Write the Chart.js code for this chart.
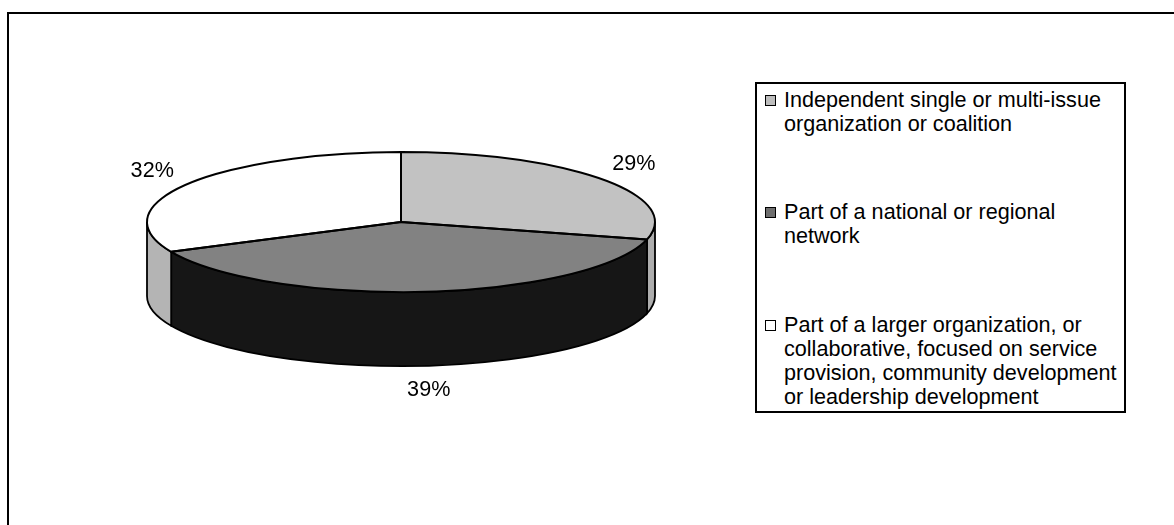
<!DOCTYPE html>
<html>
<head>
<meta charset="utf-8">
<script src="https://cdn.jsdelivr.net/npm/chart.js@4.4.1/dist/chart.umd.min.js"></script>
<style>
  html, body { margin: 0; padding: 0; background: #fff; overflow: hidden; }
  body { width: 1174px; height: 525px; position: relative; font-family: "Liberation Sans", Arial, sans-serif; }
  #frame { position: absolute; left: 7px; top: 12px; width: 1300px; height: 700px; border-left: 2px solid #000; border-top: 2px solid #000; }
  #chart { position: absolute; left: 0; top: 0; }
  #legend { position: absolute; left: 755px; top: 82px; width: 367px; height: 327px; border: 2px solid #000; background: #fff; }
  .item { position: absolute; left: 8px; font-size: 21.6px; line-height: 24px; color: #000; }
  .item .sw { position: absolute; left: 0; top: 7px; width: 9px; height: 9px; border: 1px solid #000; }
  .item .txt { margin-left: 19px; white-space: nowrap; }
</style>
</head>
<body>
<div id="frame"></div>
<canvas id="chart" width="1174" height="525"></canvas>
<div id="legend"></div>
<script>
// slices, clockwise from 12 o'clock
let categories = [
  'Independent single or multi-issue organization or coalition',
  'Part of a national or regional network',
  'Part of a larger organization, or collaborative, focused on service provision, community development or leadership development'
];
let legend_lines = [
  ['Independent single or multi-issue', 'organization or coalition'],
  ['Part of a national or regional', 'network'],
  ['Part of a larger organization, or', 'collaborative, focused on service', 'provision, community development', 'or leadership development']
];
let shares = [29, 39, 32];
let pct_labels = ['29%', '39%', '32%'];
let top_colors = ['#c2c2c2', '#828282', '#ffffff'];
let side_colors = ['#adadad', '#161616', '#b4b4b4'];
let swatch_colors = ['#bdbdbd', '#6e6e6e', '#ffffff'];

const TILT = 70 / 254;
const DEPTH = 74;

// legend
let legendBox = document.getElementById('legend');
let itemTops = [4, 116, 229];
for (let i = 0; i < legend_lines.length; i++) {
  let item = document.createElement('div');
  item.className = 'item';
  item.style.top = itemTops[i] + 'px';
  item.innerHTML = '<div class="sw" style="background:' + swatch_colors[i] + '"></div>' +
    '<div class="txt">' + legend_lines[i].join('<br>') + '</div>';
  legendBox.appendChild(item);
}

const pie3d = {
  id: 'pie3d',
  beforeDatasetsDraw(chart) {
    let ctx = chart.ctx;
    let arcs = chart.getDatasetMeta(0).data;
    let cx = arcs[0].x, cy = arcs[0].y;
    let rx = arcs[0].outerRadius, ry = rx * TILT;
    ctx.save();
    ctx.lineWidth = 1.8;
    ctx.strokeStyle = '#000';
    arcs.forEach((arc, i) => {
      for (let k = -1; k <= 1; k++) {
        let s = Math.max(arc.startAngle, 2 * Math.PI * k);
        let e = Math.min(arc.endAngle, Math.PI + 2 * Math.PI * k);
        if (e <= s) continue;
        ctx.beginPath();
        ctx.ellipse(cx, cy, rx, ry, 0, s, e);
        ctx.lineTo(cx + rx * Math.cos(e), cy + ry * Math.sin(e) + DEPTH);
        ctx.ellipse(cx, cy + DEPTH, rx, ry, 0, e, s, true);
        ctx.closePath();
        ctx.fillStyle = side_colors[i];
        ctx.fill();
        ctx.stroke();
      }
    });
    ctx.restore();
    // squash the flat pie into the top face
    ctx.save();
    ctx.translate(cx, cy);
    ctx.scale(1, TILT);
    ctx.translate(-cx, -cy);
  },
  afterDatasetsDraw(chart) {
    let ctx = chart.ctx;
    ctx.restore();
    let arcs = chart.getDatasetMeta(0).data;
    let cx = arcs[0].x, cy = arcs[0].y;
    let rx = arcs[0].outerRadius, ry = rx * TILT;
    ctx.save();
    ctx.lineWidth = 2;
    ctx.strokeStyle = '#000';
    ctx.lineJoin = 'round';
    arcs.forEach(arc => {
      ctx.beginPath();
      ctx.moveTo(cx, cy);
      ctx.lineTo(cx + rx * Math.cos(arc.startAngle), cy + ry * Math.sin(arc.startAngle));
      ctx.ellipse(cx, cy, rx, ry, 0, arc.startAngle, arc.endAngle);
      ctx.closePath();
      ctx.stroke();
    });
    // percentage labels outside the slices
    ctx.fillStyle = '#000';
    ctx.font = '21.6px "Liberation Sans", Arial, sans-serif';
    ctx.textAlign = 'center';
    ctx.textBaseline = 'middle';
    arcs.forEach((arc, i) => {
      let mid = (arc.startAngle + arc.endAngle) / 2;
      let lx = cx + rx * 1.16 * Math.cos(mid);
      let ly = cy + ry * 1.35 * Math.sin(mid) + (Math.sin(mid) > 0 ? DEPTH : 0);
      ctx.fillText(pct_labels[i], lx, ly);
    });
    ctx.restore();
  }
};

let ctx = document.getElementById('chart').getContext('2d');
let myChart = new Chart(ctx, {
  type: 'pie',
  data: {
    labels: categories,
    datasets: [{
      data: shares,
      backgroundColor: top_colors,
      borderWidth: 0,
      radius: 254,
      clip: false
    }]
  },
  options: {
    responsive: false,
    animation: false,
    events: [],
    layout: { padding: { left: 0, right: 372, top: 0, bottom: 81 } },
    plugins: { legend: { display: false }, tooltip: { enabled: false } }
  },
  plugins: [pie3d]
});
</script>
</body>
</html>
